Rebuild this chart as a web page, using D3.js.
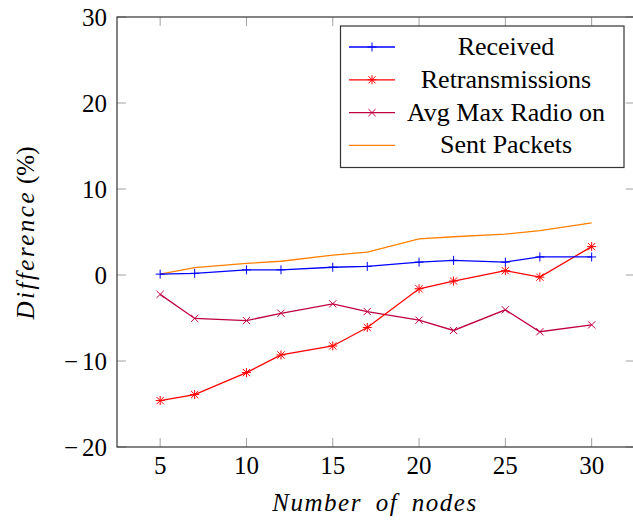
<!DOCTYPE html>
<html>
<head>
	<meta charset="utf-8"/>
	<script src="https://d3js.org/d3.v7.min.js"></script>
	<style>
		body{margin:0;background:#fff;}
		text{font-family:"Liberation Serif","DejaVu Serif",serif;fill:#000;}
	</style>
</head>
<body>
<script>
// number of nodes
var nodes = [5, 7, 10, 12, 15, 17, 20, 22, 25, 27, 30];
// difference in percent, one array per series
var received        = [0.1, 0.2, 0.6, 0.6, 0.9, 1.0, 1.5, 1.7, 1.5, 2.1, 2.1];
var retransmissions = [-14.6, -13.9, -11.35, -9.3, -8.25, -6.1, -1.6, -0.7, 0.5, -0.25, 3.3];
var avgMaxRadioOn   = [-2.25, -5.05, -5.3, -4.45, -3.35, -4.25, -5.25, -6.45, -4.05, -6.6, -5.8];
var sentPackets     = [0.1, 0.85, 1.35, 1.6, 2.3, 2.65, 4.2, 4.45, 4.75, 5.15, 6.05];
var xTicks = [5, 10, 15, 20, 25, 30];
var yTicks = [-20, -10, 0, 10, 20, 30];

var series = [
	{name:"Received", values:received, color:"#0000ff", mark:"plus"},
	{name:"Retransmissions", values:retransmissions, color:"#ff0000", mark:"star"},
	{name:"Avg Max Radio on", values:avgMaxRadioOn, color:"#bf0040", mark:"cross"},
	{name:"Sent Packets", values:sentPackets, color:"#ff8000", mark:"none"}
];

var W = 633, H = 520;
var pLeft = 117, pTop = 17, pBottom = 447;
var x = d3.scaleLinear().domain([2.5, 32.5]).range([pLeft, 634.8]);
var y = d3.scaleLinear().domain([-20, 30]).range([pBottom, pTop]);

var svg = d3.select("body").append("svg")
	.attr("width", W).attr("height", H);

// inner tick marks
var tl = 9;
svg.append("g").selectAll("line").data(xTicks).enter().append("line")
	.attr("x1", function(d){return x(d);}).attr("x2", function(d){return x(d);})
	.attr("y1", pBottom).attr("y2", pBottom - tl)
	.attr("stroke", "#a0a0a0").attr("stroke-width", 1);
svg.append("g").selectAll("line").data(xTicks).enter().append("line")
	.attr("x1", function(d){return x(d);}).attr("x2", function(d){return x(d);})
	.attr("y1", pTop).attr("y2", pTop + tl)
	.attr("stroke", "#a0a0a0").attr("stroke-width", 1);
svg.append("g").selectAll("line").data(yTicks).enter().append("line")
	.attr("x1", pLeft).attr("x2", pLeft + tl)
	.attr("y1", function(d){return y(d);}).attr("y2", function(d){return y(d);})
	.attr("stroke", "#a0a0a0").attr("stroke-width", 1);
svg.append("g").selectAll("line").data(yTicks).enter().append("line")
	.attr("x1", x(32.5)).attr("x2", x(32.5) - tl)
	.attr("y1", function(d){return y(d);}).attr("y2", function(d){return y(d);})
	.attr("stroke", "#a0a0a0").attr("stroke-width", 1);

// frame
svg.append("rect")
	.attr("x", pLeft).attr("y", pTop)
	.attr("width", x(32.5) - pLeft).attr("height", pBottom - pTop)
	.attr("fill", "none").attr("stroke", "#333").attr("stroke-width", 1.2);

// tick labels
svg.append("g").selectAll("text").data(xTicks).enter().append("text")
	.attr("x", function(d){return x(d);}).attr("y", 474)
	.attr("text-anchor", "middle").attr("font-size", 25)
	.text(function(d){return d;});
var yl = svg.append("g").selectAll("text").data(yTicks).enter().append("text")
	.attr("x", 107).attr("y", function(d){return y(d) + 9;})
	.attr("text-anchor", "end").attr("font-size", 25);
yl.each(function(d){
	var t = d3.select(this);
	if(d < 0){
		t.append("tspan").text("\u2212");
		t.append("tspan").attr("dx", 4).text(-d);
	}else{
		t.text(d);
	}
});

// axis labels
svg.append("text")
	.attr("x", 375).attr("y", 511)
	.attr("text-anchor", "middle").attr("font-size", 25)
	.attr("font-style", "italic").attr("letter-spacing", 1.5).attr("word-spacing", 6)
	.text("Number of nodes");
var yt = svg.append("text")
	.attr("transform", "translate(34,233) rotate(-90)")
	.attr("text-anchor", "middle").attr("font-size", 25);
yt.append("tspan").attr("font-style", "italic").attr("letter-spacing", 2.5).text("Difference");
yt.append("tspan").attr("dx", 6).text("(%)");

// markers
function drawMark(g, mark, cx, cy, color){
	var r = 4.5;
	if(mark == "plus" || mark == "star"){
		g.append("line").attr("x1", cx - r).attr("x2", cx + r).attr("y1", cy).attr("y2", cy)
			.attr("stroke", color).attr("stroke-width", 1);
		g.append("line").attr("x1", cx).attr("x2", cx).attr("y1", cy - r).attr("y2", cy + r)
			.attr("stroke", color).attr("stroke-width", 1);
	}
	if(mark == "star" || mark == "cross"){
		var c = r * 0.8;
		g.append("line").attr("x1", cx - c).attr("x2", cx + c).attr("y1", cy - c).attr("y2", cy + c)
			.attr("stroke", color).attr("stroke-width", 1);
		g.append("line").attr("x1", cx - c).attr("x2", cx + c).attr("y1", cy + c).attr("y2", cy - c)
			.attr("stroke", color).attr("stroke-width", 1);
	}
}

var line = d3.line()
	.x(function(d){return x(d[0]);})
	.y(function(d){return y(d[1]);});

// draw back to front: orange first so blue sits on top like the original
series.slice().reverse().forEach(function(s){
	var pts = nodes.map(function(n, i){return [n, s.values[i]];});
	svg.append("path").datum(pts)
		.attr("d", line)
		.attr("fill", "none").attr("stroke", s.color).attr("stroke-width", 1.3);
	var g = svg.append("g");
	pts.forEach(function(p){ drawMark(g, s.mark, x(p[0]), y(p[1]), s.color); });
});

// legend
var lg = svg.append("g");
lg.append("rect")
	.attr("x", 340.5).attr("y", 26).attr("width", 283.5).attr("height", 141.5)
	.attr("fill", "#fff").attr("stroke", "#333").attr("stroke-width", 1.2);
series.forEach(function(s, i){
	var cy = 47 + i * 32.8;
	lg.append("line").attr("x1", 349).attr("x2", 395).attr("y1", cy).attr("y2", cy)
		.attr("stroke", s.color).attr("stroke-width", 1.3);
	drawMark(lg, s.mark, 372, cy, s.color);
	lg.append("text")
		.attr("x", 506).attr("y", cy + 8)
		.attr("text-anchor", "middle").attr("font-size", 26)
		.text(s.name);
});
</script>
</body>
</html>
